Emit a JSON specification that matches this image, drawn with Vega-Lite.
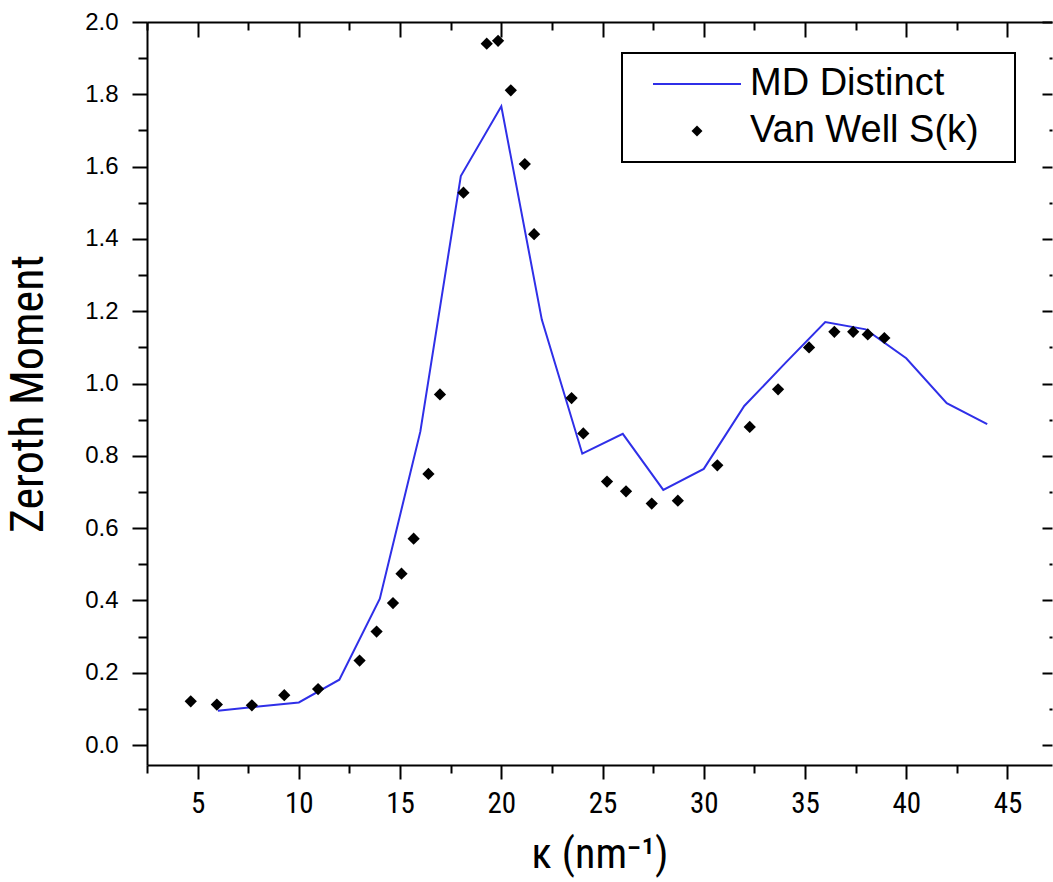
{
  "$schema": "https://vega.github.io/schema/vega-lite/v6.json",
  "width": 905,
  "height": 743,
  "autosize": "none",
  "padding": {"left": 147, "top": 22, "right": 1, "bottom": 117},
  "background": "white",
  "config": {
    "view": {"stroke": null},
    "axis": {"domainColor": "black", "tickColor": "black", "labelColor": "black", "titleColor": "black", "grid": false, "domainWidth": 2, "tickWidth": 2, "titleFontWeight": "normal", "labelOverlap": false, "labelFlush": false}
  },
  "datasets": {
    "md": [
      {"k": 6, "m": 0.095, "series": "MD Distinct"},
      {"k": 8, "m": 0.107, "series": "MD Distinct"},
      {"k": 10, "m": 0.118, "series": "MD Distinct"},
      {"k": 12, "m": 0.181, "series": "MD Distinct"},
      {"k": 14, "m": 0.405, "series": "MD Distinct"},
      {"k": 16, "m": 0.867, "series": "MD Distinct"},
      {"k": 18, "m": 1.574, "series": "MD Distinct"},
      {"k": 20, "m": 1.767, "series": "MD Distinct"},
      {"k": 22, "m": 1.177, "series": "MD Distinct"},
      {"k": 24, "m": 0.806, "series": "MD Distinct"},
      {"k": 26, "m": 0.861, "series": "MD Distinct"},
      {"k": 28, "m": 0.706, "series": "MD Distinct"},
      {"k": 30, "m": 0.764, "series": "MD Distinct"},
      {"k": 32, "m": 0.938, "series": "MD Distinct"},
      {"k": 34, "m": 1.055, "series": "MD Distinct"},
      {"k": 36, "m": 1.17, "series": "MD Distinct"},
      {"k": 38, "m": 1.15, "series": "MD Distinct"},
      {"k": 40, "m": 1.07, "series": "MD Distinct"},
      {"k": 42, "m": 0.946, "series": "MD Distinct"},
      {"k": 44, "m": 0.888, "series": "MD Distinct"}
    ],
    "vw": [
      {"k": 4.66, "m": 0.121, "series": "Van Well S(k)"},
      {"k": 5.95, "m": 0.112, "series": "Van Well S(k)"},
      {"k": 7.68, "m": 0.11, "series": "Van Well S(k)"},
      {"k": 9.28, "m": 0.138, "series": "Van Well S(k)"},
      {"k": 10.95, "m": 0.155, "series": "Van Well S(k)"},
      {"k": 13.0, "m": 0.234, "series": "Van Well S(k)"},
      {"k": 13.84, "m": 0.314, "series": "Van Well S(k)"},
      {"k": 14.65, "m": 0.393, "series": "Van Well S(k)"},
      {"k": 15.07, "m": 0.474, "series": "Van Well S(k)"},
      {"k": 15.67, "m": 0.571, "series": "Van Well S(k)"},
      {"k": 16.4, "m": 0.75, "series": "Van Well S(k)"},
      {"k": 16.97, "m": 0.97, "series": "Van Well S(k)"},
      {"k": 18.13, "m": 1.528, "series": "Van Well S(k)"},
      {"k": 19.28, "m": 1.94, "series": "Van Well S(k)"},
      {"k": 19.84, "m": 1.948, "series": "Van Well S(k)"},
      {"k": 20.47, "m": 1.811, "series": "Van Well S(k)"},
      {"k": 21.16, "m": 1.607, "series": "Van Well S(k)"},
      {"k": 21.62, "m": 1.413, "series": "Van Well S(k)"},
      {"k": 23.47, "m": 0.96, "series": "Van Well S(k)"},
      {"k": 24.05, "m": 0.862, "series": "Van Well S(k)"},
      {"k": 25.22, "m": 0.729, "series": "Van Well S(k)"},
      {"k": 26.16, "m": 0.702, "series": "Van Well S(k)"},
      {"k": 27.43, "m": 0.668, "series": "Van Well S(k)"},
      {"k": 28.72, "m": 0.676, "series": "Van Well S(k)"},
      {"k": 30.67, "m": 0.774, "series": "Van Well S(k)"},
      {"k": 32.27, "m": 0.88, "series": "Van Well S(k)"},
      {"k": 33.67, "m": 0.984, "series": "Van Well S(k)"},
      {"k": 35.2, "m": 1.1, "series": "Van Well S(k)"},
      {"k": 36.45, "m": 1.143, "series": "Van Well S(k)"},
      {"k": 37.38, "m": 1.143, "series": "Van Well S(k)"},
      {"k": 38.1, "m": 1.136, "series": "Van Well S(k)"},
      {"k": 38.92, "m": 1.126, "series": "Van Well S(k)"}
    ]
  },
  "layer": [
    {
      "data": {"name": "md"},
      "mark": {"type": "line", "strokeWidth": 2},
      "encoding": {
        "x": {
          "field": "k", "type": "quantitative",
          "scale": {"domain": [2.5, 47.2], "nice": false, "zero": false},
          "axis": {
            "orient": "bottom",
            "values": [2.5, 5, 7.5, 10, 12.5, 15, 17.5, 20, 22.5, 25, 27.5, 30, 32.5, 35, 37.5, 40, 42.5, 45],
            "labelExpr": "datum.value % 5 === 0 ? datum.value : ''",
            "tickSize": {"condition": {"test": "datum.value % 5 === 0", "value": 14}, "value": 8},
            "labelFont": "Arial Narrow, Liberation Sans Narrow, Roboto Condensed, DejaVu Sans Condensed, Arial",
            "labelFontSize": 29,
            "labelPadding": 10,
            "title": "κ (nm⁻¹)",
            "titleFont": "Arial Narrow, Liberation Sans Narrow, Roboto Condensed, DejaVu Sans Condensed, Arial",
            "titleFontSize": 42,
            "titlePadding": 16
          }
        },
        "y": {
          "field": "m", "type": "quantitative",
          "scale": {"domain": [-0.055, 2.0], "nice": false, "zero": false},
          "axis": {
            "orient": "left",
            "values": [0, 0.1, 0.2, 0.3, 0.4, 0.5, 0.6, 0.7, 0.8, 0.9, 1.0, 1.1, 1.2, 1.3, 1.4, 1.5, 1.6, 1.7, 1.8, 1.9, 2.0],
            "labelExpr": "round(datum.value * 10) % 2 === 0 ? format(datum.value, '.1f') : ''",
            "tickSize": {"condition": {"test": "round(datum.value * 10) % 2 === 0", "value": 15}, "value": 9},
            "labelFont": "Arial, Liberation Sans, Helvetica",
            "labelFontSize": 24,
            "labelPadding": 14,
            "title": "Zeroth Moment",
            "titleFont": "Arial Narrow, Liberation Sans Narrow, Roboto Condensed, DejaVu Sans Condensed, Arial",
            "titleFontSize": 46,
            "titlePadding": 32
          }
        },
        "color": {
          "field": "series", "type": "nominal",
          "scale": {"domain": ["MD Distinct", "Van Well S(k)"], "range": ["#2f2fe8", "#000000"]},
          "legend": {
            "title": " ",
            "titleOrient": "right",
            "titleFontSize": 10,
            "titlePadding": 24,
            "orient": "none",
            "legendX": 475,
            "legendY": 31,
            "direction": "vertical",
            "padding": 12,
            "strokeColor": "black",
            "fillColor": "white",
            "labelFont": "Arial, Liberation Sans, Helvetica",
            "labelFontSize": 38,
            "labelColor": "black",
            "labelLimit": 0,
            "labelBaseline": "middle",
            "symbolSize": 484,
            "symbolOffset": 44,
            "labelOffset": 34,
            "rowPadding": 9,
            "encode": {
              "legend": {"update": {"strokeWidth": {"value": 2}}},
              "symbols": {
                "update": {
                  "shape": {"signal": "datum.value === 'MD Distinct' ? 'M-4,0H4' : 'diamond'"},
                  "size": {"signal": "datum.value === 'MD Distinct' ? 484 : 120"},
                  "fill": {"signal": "datum.value === 'MD Distinct' ? 'transparent' : 'black'"},
                  "stroke": {"signal": "datum.value === 'MD Distinct' ? '#2f2fe8' : 'black'"},
                  "strokeWidth": {"signal": "datum.value === 'MD Distinct' ? 2 : 0"},
                  "opacity": {"value": 1}
                }
              }
            }
          }
        }
      }
    },
    {
      "data": {"name": "vw"},
      "mark": {"type": "point", "shape": "diamond", "filled": true, "size": 150, "opacity": 1},
      "encoding": {
        "x": {
          "field": "k", "type": "quantitative",
          "axis": {
            "orient": "top",
            "values": [2.5, 5, 7.5, 10, 12.5, 15, 17.5, 20, 22.5, 25, 27.5, 30, 32.5, 35, 37.5, 40, 42.5, 45],
            "labels": false,
            "title": null,
            "tickSize": {"condition": {"test": "datum.value % 5 === 0", "value": -15}, "value": -8}
          }
        },
        "y": {
          "field": "m", "type": "quantitative",
          "axis": {
            "orient": "right",
            "values": [0, 0.1, 0.2, 0.3, 0.4, 0.5, 0.6, 0.7, 0.8, 0.9, 1.0, 1.1, 1.2, 1.3, 1.4, 1.5, 1.6, 1.7, 1.8, 1.9, 2.0],
            "labels": false,
            "title": null,
            "domain": false,
            "tickSize": {"condition": {"test": "round(datum.value * 10) % 2 === 0", "value": -10}, "value": -3}
          }
        },
        "color": {"field": "series", "type": "nominal"}
      }
    }
  ],
  "resolve": {"axis": {"x": "independent", "y": "independent"}}
}
